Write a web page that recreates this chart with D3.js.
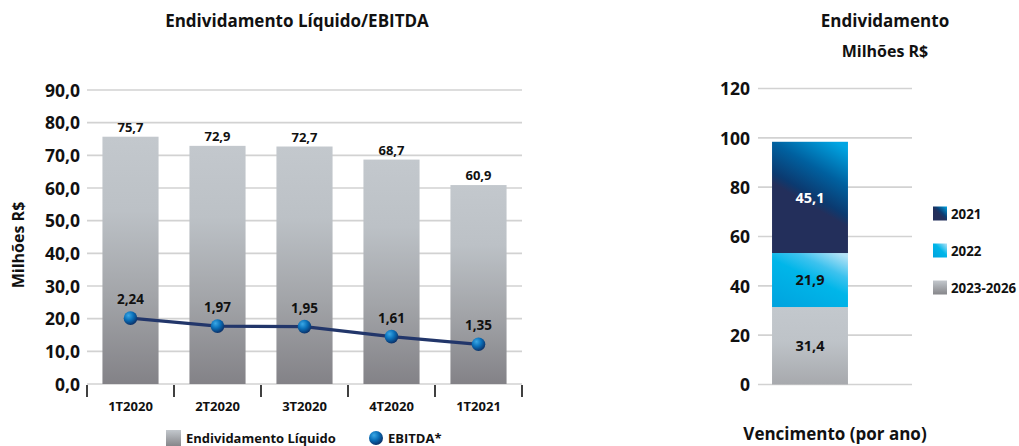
<!DOCTYPE html>
<html>
<head>
<meta charset="utf-8">
<script src="https://cdn.jsdelivr.net/npm/d3@7"></script>
<style>
  html, body { margin: 0; padding: 0; background: #fff; }
  svg { display: block; }
  text { font-family: "Open Sans", "Noto Sans", sans-serif; font-weight: 700; fill: #111; }
</style>
</head>
<body>
<svg id="chart" width="1019" height="446"></svg>
<script>
// ---------- data ----------
const quarters = ["1T2020", "2T2020", "3T2020", "4T2020", "1T2021"];
const dividaLiquida = [75.7, 72.9, 72.7, 68.7, 60.9];
const ebitdaRatio = [2.24, 1.97, 1.95, 1.61, 1.35];
const leftTicks = [0, 10, 20, 30, 40, 50, 60, 70, 80, 90];

const maturityCategory = ["Vencimento"];
const maturitySeries = ["2023-2026", "2022", "2021"];
const maturityValues = [31.4, 21.9, 45.1];
const legendOrder = ["2021", "2022", "2023-2026"];
const rightTicks = [0, 20, 40, 60, 80, 100, 120];

const fmt = v => v.toFixed(1).replace(".", ",");
const fmt2 = v => v.toFixed(2).replace(".", ",");

const svg = d3.select("#chart");
const defs = svg.append("defs");

// gradients
function vGrad(id, stops) {
  const g = defs.append("linearGradient").attr("id", id)
    .attr("x1", 0).attr("y1", 0).attr("x2", 0).attr("y2", 1);
  stops.forEach(s => g.append("stop").attr("offset", s[0]).attr("stop-color", s[1]));
}
function dGrad(id, x1, y1, x2, y2, stops) {
  const g = defs.append("linearGradient").attr("id", id)
    .attr("x1", x1).attr("y1", y1).attr("x2", x2).attr("y2", y2);
  stops.forEach(s => g.append("stop").attr("offset", s[0]).attr("stop-color", s[1]));
}
vGrad("barGray", [[0, "#c3c8cd"], [0.3, "#bcc1c6"], [0.65, "#a2a4a8"], [1, "#838287"]]);
vGrad("segGray", [[0, "#c3c8cd"], [0.45, "#bec3c8"], [1, "#a7a9ad"]]);
vGrad("legGray", [[0, "#c3c8cd"], [1, "#86868a"]]);
dGrad("seg2021", 0.3, 1, 0.72, -0.05, [[0, "#232f5b"], [0.42, "#232f5b"], [0.5, "#0b3a70"], [0.72, "#00609f"], [1, "#00a5e3"]]);
dGrad("leg2021", 0, 1, 1, 0, [[0, "#232f5b"], [0.45, "#232f5b"], [0.6, "#0b3d74"], [1, "#00a5e3"]]);
dGrad("seg2022", 0, 1, 0.75, -0.1, [[0, "#00a2de"], [0.55, "#00b6e9"], [0.75, "#3cc2ee"], [1, "#b4e2f6"]]);
dGrad("leg2022", 0, 1, 1, 0, [[0, "#00a2de"], [0.55, "#00b6e9"], [1, "#b4e2f6"]]);
const rg = defs.append("radialGradient").attr("id", "dot")
  .attr("cx", 0.38).attr("cy", 0.32).attr("r", 0.7).attr("fx", 0.35).attr("fy", 0.3);
rg.append("stop").attr("offset", 0).attr("stop-color", "#3aa8e6");
rg.append("stop").attr("offset", 0.5).attr("stop-color", "#0a6fb8");
rg.append("stop").attr("offset", 1).attr("stop-color", "#0b2f66");

const segFill = { "2023-2026": "url(#segGray)", "2022": "url(#seg2022)", "2021": "url(#seg2021)" };
const legFill = { "2023-2026": "url(#legGray)", "2022": "url(#leg2022)", "2021": "url(#leg2021)" };
const segText = { "2023-2026": "#111", "2022": "#111", "2021": "#fff" };

// ================= LEFT CHART =================
const xL = d3.scaleBand().domain(quarters).range([87, 522]).paddingInner(0.355).paddingOuter(0.1775);
const yL = d3.scaleLinear().domain([0, 90]).range([384, 90]);
const yE = d3.scaleLinear().domain([0, 10]).range([384, 90]);

svg.append("text").attr("x", 297).attr("y", 27).attr("text-anchor", "middle")
  .style("font-size", "17px").text("Endividamento Líquido/EBITDA");

// gridlines
const gL = svg.append("g");
gL.selectAll("line.grid").data(leftTicks).join("line")
  .attr("x1", 87).attr("x2", 522)
  .attr("y1", d => yL(d)).attr("y2", d => yL(d))
  .attr("stroke", "#d2d2d2").attr("stroke-width", 1.6);

// y axis labels
const yAxisL = d3.axisLeft(yL).tickValues(leftTicks).tickFormat(fmt).tickSize(0).tickPadding(0);
const gyl = svg.append("g").attr("transform", "translate(80,0)").call(yAxisL);
gyl.select(".domain").remove();
gyl.selectAll("text").attr("dy", "0.36em").style("font-size", "17.5px").style("font-family", null).attr("fill", "#111");

svg.append("text").attr("transform", "translate(24,245) rotate(-90)")
  .attr("text-anchor", "middle").style("font-size", "16px").text("Milhões R$");

// bars
svg.append("g").selectAll("rect").data(quarters).join("rect")
  .attr("x", d => xL(d)).attr("width", xL.bandwidth())
  .attr("y", (d, i) => yL(dividaLiquida[i]))
  .attr("height", (d, i) => yL(0) - yL(dividaLiquida[i]))
  .attr("fill", "url(#barGray)");

svg.append("g").selectAll("text").data(quarters).join("text")
  .attr("x", d => xL(d) + xL.bandwidth() / 2)
  .attr("y", (d, i) => yL(dividaLiquida[i]) - 5)
  .attr("text-anchor", "middle").style("font-size", "13px")
  .text((d, i) => fmt(dividaLiquida[i]));

// x axis ticks at band boundaries
const step = xL.step();
const bounds = d3.range(quarters.length + 1).map(i => xL.range()[0] + i * step);
svg.append("g").selectAll("line").data(bounds).join("line")
  .attr("x1", d => d).attr("x2", d => d).attr("y1", 385).attr("y2", 397)
  .attr("stroke", "#111").attr("stroke-width", 1.6);
const xAxisL = d3.axisBottom(xL).tickSize(0).tickPadding(0);
const gxl = svg.append("g").attr("transform", "translate(0,411)").call(xAxisL);
gxl.select(".domain").remove();
gxl.selectAll("text").attr("dy", 0).style("font-size", "13px").style("font-family", null).attr("fill", "#111");

// EBITDA line
const line = d3.line().x((d, i) => xL(quarters[i]) + xL.bandwidth() / 2).y(d => yE(d));
svg.append("path").datum(ebitdaRatio).attr("d", line)
  .attr("fill", "none").attr("stroke", "#22366a").attr("stroke-width", 3.2);
svg.append("g").selectAll("circle").data(ebitdaRatio).join("circle")
  .attr("cx", (d, i) => xL(quarters[i]) + xL.bandwidth() / 2)
  .attr("cy", d => yE(d)).attr("r", 6.8).attr("fill", "url(#dot)");
svg.append("g").selectAll("text").data(ebitdaRatio).join("text")
  .attr("x", (d, i) => xL(quarters[i]) + xL.bandwidth() / 2)
  .attr("y", d => yE(d) - 14)
  .attr("text-anchor", "middle").style("font-size", "13.5px")
  .text(d => fmt2(d));

// left legend
svg.append("rect").attr("x", 166).attr("y", 430).attr("width", 15).attr("height", 16).attr("fill", "url(#legGray)");
svg.append("text").attr("x", 186).attr("y", 443).style("font-size", "13px").text("Endividamento Líquido");
svg.append("circle").attr("cx", 376).attr("cy", 438).attr("r", 7).attr("fill", "url(#dot)");
svg.append("text").attr("x", 388).attr("y", 443).style("font-size", "13px").text("EBITDA*");

// ================= RIGHT CHART =================
const xR = d3.scaleBand().domain(maturityCategory).range([758, 862]).paddingInner(0.27).paddingOuter(0.135);
const yR = d3.scaleLinear().domain([0, 120]).range([384.5, 88.5]);

svg.append("text").attr("x", 885).attr("y", 27).attr("text-anchor", "middle")
  .style("font-size", "17px").text("Endividamento");
svg.append("text").attr("x", 885).attr("y", 57).attr("text-anchor", "middle")
  .style("font-size", "16px").text("Milhões R$");

svg.append("g").selectAll("line").data(rightTicks).join("line")
  .attr("x1", 758).attr("x2", 912)
  .attr("y1", d => yR(d)).attr("y2", d => yR(d))
  .attr("stroke", "#d2d2d2").attr("stroke-width", 1.6);

const yAxisR = d3.axisLeft(yR).tickValues(rightTicks).tickFormat(d3.format("d")).tickSize(0).tickPadding(0);
const gyr = svg.append("g").attr("transform", "translate(750,0)").call(yAxisR);
gyr.select(".domain").remove();
gyr.selectAll("text").attr("dy", "0.36em").style("font-size", "17.5px").style("font-family", null).attr("fill", "#111");

// stacked bar
const stackRow = {};
maturitySeries.forEach((s, i) => stackRow[s] = maturityValues[i]);
const stacked = d3.stack().keys(maturitySeries)([stackRow]);
const gS = svg.append("g");
gS.selectAll("rect").data(stacked).join("rect")
  .attr("x", xR("Vencimento")).attr("width", xR.bandwidth())
  .attr("y", d => yR(d[0][1])).attr("height", d => yR(d[0][0]) - yR(d[0][1]))
  .attr("fill", d => segFill[d.key]);
gS.selectAll("text").data(stacked).join("text")
  .attr("x", xR("Vencimento") + xR.bandwidth() / 2)
  .attr("y", d => (yR(d[0][0]) + yR(d[0][1])) / 2)
  .attr("dy", "0.36em").attr("text-anchor", "middle")
  .style("font-size", "14.5px").style("fill", d => segText[d.key])
  .text(d => fmt(d[0][1] - d[0][0]));

// right legend
const legR = svg.append("g").selectAll("g").data(legendOrder).join("g")
  .attr("transform", (d, i) => `translate(933,${206.5 + i * 37})`);
legR.append("rect").attr("width", 14).attr("height", 14).attr("fill", d => legFill[d]);
legR.append("text").attr("x", 18).attr("y", 12).style("font-size", "13.3px").text(d => d);

svg.append("text").attr("x", 835).attr("y", 440).attr("text-anchor", "middle")
  .style("font-size", "17px").text("Vencimento (por ano)");
</script>
</body>
</html>
